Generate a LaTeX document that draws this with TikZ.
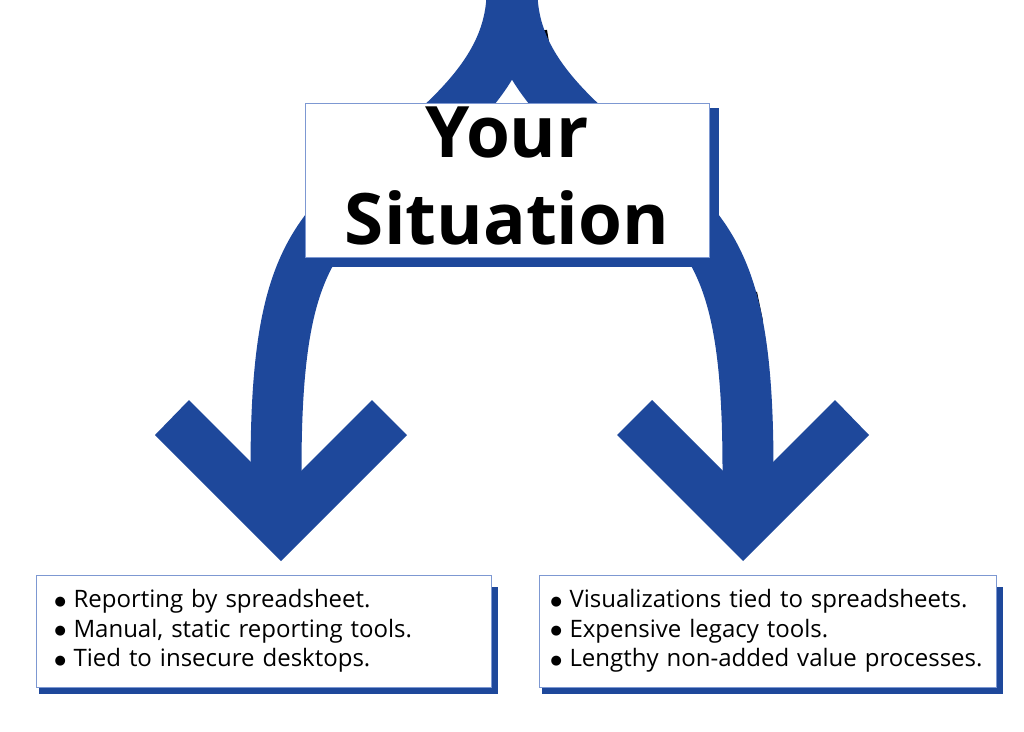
\documentclass[tikz,border=0pt]{standalone}
\usepackage{fontspec}
\setmainfont{Open Sans}
\newfontfamily\symfont{DejaVu Sans}
\usepackage{tikz}
\usetikzlibrary{positioning}
\usetikzlibrary{backgrounds}

\definecolor{arrowblue}{RGB}{30,72,155}
\definecolor{edgeblue}{RGB}{125,152,210}

\newcommand{\itm}[1]{\makebox[19pt][l]{\raisebox{2.5pt}{\symfont\fontsize{13}{13}\selectfont ●}}#1}

\begin{document}
\begin{tikzpicture}[x=1pt,y=-1pt,
		band/.style={draw=arrowblue,line width=51pt},
		chevron/.style={fill=arrowblue},
		backing/.style={fill=arrowblue},
		panel/.style={draw=edgeblue,line width=0.8pt,fill=white,inner sep=0pt},
		listbox/.style={panel,minimum height=112pt,align=left,font=\fontsize{24}{29.5}\selectfont}]
		\useasboundingbox (0,0) rectangle (1024,731);
		\coordinate (top) at (512,-5);
		\coordinate (lefttip) at (276,500);
		\coordinate (righttip) at (748,500);
		\draw[line width=3pt] (545.5,30) -- (547.5,42);
		\draw[line width=3pt] (755.5,292) -- (761.5,321);
		\draw[band] (top) .. controls (510,70) and (450,120) .. (375,180) .. controls (305,240) and (276,285) .. (276,470) -- (lefttip);
		\draw[band] (top) .. controls (514,70) and (574,120) .. (649,180) .. controls (719,240) and (748,285) .. (748,470) -- (righttip);
		\fill[chevron] (155,435) -- (189,400) -- (280.5,491.5) -- (372,400) -- (407,435) -- (281,561) -- cycle;
		\fill[chevron] (617,435) -- (652,400) -- (743.5,491.5) -- (835,400) -- (869,435) -- (743,561) -- cycle;
		\node[panel,minimum width=404pt,minimum height=154pt,align=center,font=\fontsize{71}{87}\selectfont\bfseries] (title) at (507,180) {Your\\Situation\rule[-8pt]{0pt}{0pt}};
		\node[listbox,minimum width=455pt,text width=418pt] (leftlist) at (263.5,631) {\itm{Reporting by spreadsheet.}\\\itm{Manual, static reporting tools.}\\\itm{Tied to insecure desktops.}};
		\node[listbox,minimum width=457pt,text width=434pt] (rightlist) at (767.5,631) {\itm{Visualizations tied to spreadsheets.}\\\itm{Expensive legacy tools.}\\\itm{Lengthy non-added value processes.}};
		\begin{scope}[on background layer]
			\fill[backing] ([shift={(10,5)}]title.north west) rectangle ([shift={(10,10)}]title.south east);
			\fill[backing] ([shift={(3,12)}]leftlist.north west) rectangle ([shift={(7,7)}]leftlist.south east);
			\fill[backing] ([shift={(3,12)}]rightlist.north west) rectangle ([shift={(7,7)}]rightlist.south east);
		\end{scope}
\end{tikzpicture}
\end{document}
